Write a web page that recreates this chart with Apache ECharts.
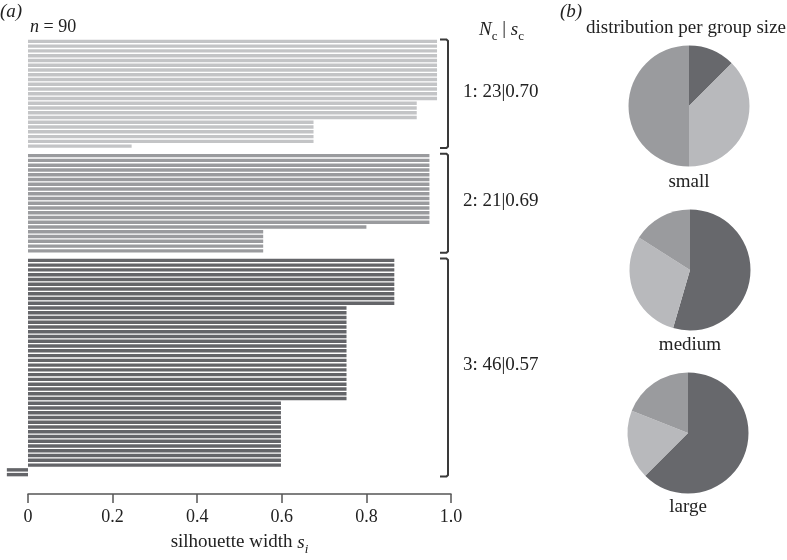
<!DOCTYPE html>
<html><head><meta charset="utf-8">
<script src="https://cdn.jsdelivr.net/npm/echarts/dist/echarts.min.js"></script>
<style>html,body{margin:0;padding:0;background:#fff}#c{width:787px;height:560px}</style>
</head><body><div id="c"></div>
<script>
// ---- data ----
const cluster1 = [0.967,0.967,0.967,0.967,0.967,0.967,0.967,0.967,0.967,0.967,0.967,0.967,0.967,
                  0.919,0.919,0.919,0.919,
                  0.675,0.675,0.675,0.675,0.675,
                  0.245];
const cluster2 = [0.949,0.949,0.949,0.949,0.949,0.949,0.949,0.949,0.949,0.949,0.949,0.949,0.949,0.949,0.949,
                  0.80,
                  0.556,0.556,0.556,0.556,0.556];
const cluster3 = [0.866,0.866,0.866,0.866,0.866,0.866,0.866,0.866,0.866,0.866,
                  0.753,0.753,0.753,0.753,0.753,0.753,0.753,0.753,0.753,0.753,
                  0.753,0.753,0.753,0.753,0.753,0.753,0.753,0.753,0.753,0.753,
                  0.598,0.598,0.598,0.598,0.598,0.598,0.598,0.598,0.598,0.598,0.598,0.598,0.598,0.598,
                  -0.05,-0.05];
const clusterLabels = ['1: 23|0.70', '2: 21|0.69', '3: 46|0.57'];
const xTickLabels = ['0', '0.2', '0.4', '0.6', '0.8', '1.0'];
const pieNames = ['small', 'medium', 'large'];
// slice order (clockwise from top): cluster 3, cluster 1, cluster 2
const pieSmall = [0.125, 0.375, 0.5];
const pieMedium = [0.545, 0.295, 0.16];
const pieLarge = [0.625, 0.185, 0.19];

// ---- build ----
const clusters = [cluster1, cluster2, cluster3];
const barColors = ['#c3c4c6', '#9a9b9e', '#646569'];
const pieColors = ['#67686c', '#b8b9bc', '#9a9b9e'];
const cats = [];
const seriesData = [[], [], []];
const ranges = [];
let idx = 0;
clusters.forEach((cl, k) => {
  const start = idx;
  cl.forEach(v => {
    cats.push(String(idx));
    for (let j = 0; j < 3; j++) seriesData[j].push(j === k ? v : null);
    idx++;
  });
  ranges.push([start, idx - 1]);
  if (k < clusters.length - 1) {
    cats.push(String(idx));
    for (let j = 0; j < 3; j++) seriesData[j].push(null);
    idx++;
  }
});

const FONT = 'Liberation Serif';
const TXT = '#222';
const chart = echarts.init(document.getElementById('c'), null, {renderer: 'canvas'});

const barSeries = seriesData.map((d, k) => ({
  type: 'bar', xAxisIndex: 0, yAxisIndex: 0, data: d,
  barWidth: '72%', barGap: '-100%', silent: true,
  itemStyle: {color: barColors[k]}
}));
const pieCenters = [[689, 106], [690, 270], [688, 433]];
const pies = [pieSmall, pieMedium, pieLarge].map((p, k) => ({
  type: 'pie', radius: 60.5, center: pieCenters[k], startAngle: 90, clockwise: true,
  silent: true, label: {show: false}, labelLine: {show: false},
  itemStyle: {borderWidth: 0},
  data: p.map((v, j) => ({value: v, itemStyle: {color: pieColors[j]}}))
}));

chart.setOption({
  animation: false,
  grid: [
    {left: 6.85, width: 444.15, top: 39, height: 438},
    {left: 28, width: 423, top: 493, height: 1}
  ],
  xAxis: [
    {gridIndex: 0, type: 'value', min: -0.05, max: 1, show: false},
    {gridIndex: 1, type: 'value', min: 0, max: 1, interval: 0.2,
     axisLine: {show: true, lineStyle: {color: '#555', width: 1.5}},
     axisTick: {show: true, length: 9, lineStyle: {color: '#555', width: 1.5}},
     splitLine: {show: false},
     axisLabel: {fontFamily: FONT, fontSize: 18, color: TXT, margin: 14,
       formatter: (v) => xTickLabels[Math.round(v / 0.2)]},
     name: '{t|silhouette width }{i|s}{sub|i}', nameLocation: 'middle', nameGap: 36,
     nameTextStyle: {rich: {
       t: {fontFamily: FONT, fontSize: 19, color: TXT, lineHeight: 22, verticalAlign: 'bottom'},
       i: {fontFamily: FONT, fontSize: 19, fontStyle: 'italic', color: TXT, lineHeight: 22, verticalAlign: 'bottom'},
       sub: {fontFamily: FONT, fontSize: 13, fontStyle: 'italic', color: TXT, lineHeight: 18, verticalAlign: 'bottom', padding: [0,0,-4,0]}
     }}
    }
  ],
  yAxis: [
    {gridIndex: 0, type: 'category', data: cats, inverse: true, show: false},
    {gridIndex: 1, type: 'value', show: false}
  ],
  series: barSeries.concat(pies)
});

// annotations (brackets and labels) positioned from data indices
const g = [];
const slot = 438 / cats.length;
const bx = 448, arm = 8;
ranges.forEach((rg, k) => {
  const y0 = chart.convertToPixel({yAxisIndex: 0}, String(rg[0])) - slot / 2 + 0.5;
  const y1 = chart.convertToPixel({yAxisIndex: 0}, String(rg[1])) + slot / 2 - 0.5;
  g.push({
    type: 'polyline', silent: true,
    shape: {points: [[bx - arm, y0], [bx - 1.5, y0], [bx, y0 + 1.5], [bx, y1 - 1.5], [bx - 1.5, y1], [bx - arm, y1]]},
    style: {fill: null, stroke: '#3a3a3a', lineWidth: 2}
  });
  g.push({
    type: 'text', silent: true, x: 463, y: (y0 + y1) / 2 - 2,
    style: {text: clusterLabels[k], fontFamily: FONT, fontSize: 19, fill: TXT, verticalAlign: 'middle'}
  });
});
g.push({type: 'text', x: 0, y: 12, style: {text: '(a)', fontFamily: FONT, fontSize: 19, fontStyle: 'italic', fill: TXT, verticalAlign: 'middle'}});
g.push({type: 'text', x: 30, y: 27, style: {text: '{i|n} = 90', fontFamily: FONT, fontSize: 18, fill: TXT, verticalAlign: 'middle',
  rich: {i: {fontFamily: FONT, fontSize: 18, fontStyle: 'italic', fill: TXT}}}});
g.push({type: 'text', x: 479, y: 28, style: {
  text: '{i|N}{sub|c}{t| | }{i|s}{sub|c}', verticalAlign: 'middle',
  rich: {
    i: {fontFamily: FONT, fontSize: 19, fontStyle: 'italic', fill: TXT, lineHeight: 22, verticalAlign: 'bottom'},
    t: {fontFamily: FONT, fontSize: 19, fill: TXT, lineHeight: 22, verticalAlign: 'bottom'},
    sub: {fontFamily: FONT, fontSize: 13, fill: TXT, lineHeight: 17, verticalAlign: 'bottom', padding: [0,0,-4,0]}
  }}});
g.push({type: 'text', x: 560, y: 12, style: {text: '(b)', fontFamily: FONT, fontSize: 19, fontStyle: 'italic', fill: TXT, verticalAlign: 'middle'}});
g.push({type: 'text', x: 686, y: 28, style: {text: 'distribution per group size', fontFamily: FONT, fontSize: 19, fill: TXT, align: 'center', verticalAlign: 'middle'}});
const labelYs = [182, 345, 507];
pieNames.forEach((n, k) => {
  g.push({type: 'text', x: pieCenters[k][0], y: labelYs[k], style: {text: n, fontFamily: FONT, fontSize: 19, fill: TXT, align: 'center', verticalAlign: 'middle'}});
});
chart.setOption({graphic: g});
</script></body></html>
